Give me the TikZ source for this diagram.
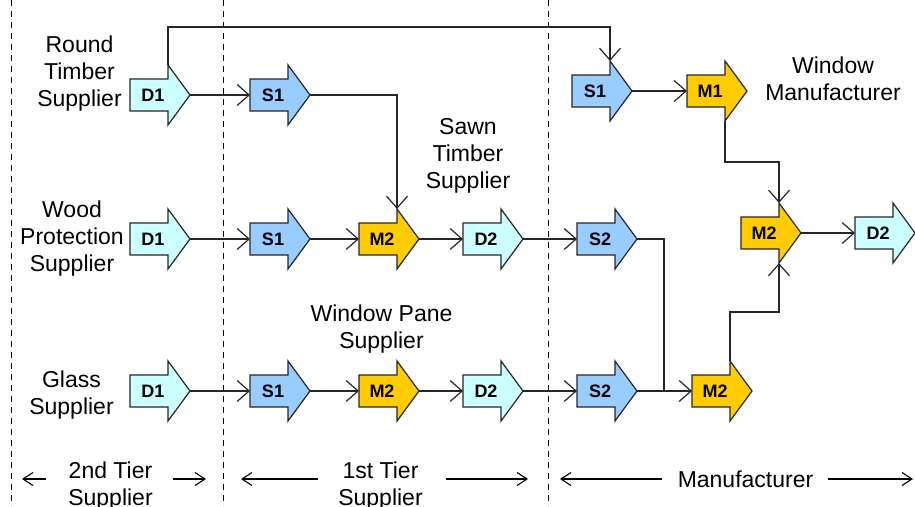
\documentclass[tikz,border=0pt]{standalone}
\usepackage{fontspec}
\setmainfont{Liberation Sans}
\usetikzlibrary{arrows.meta}
\definecolor{cD}{HTML}{CCFFFF}
\definecolor{cS}{HTML}{99CCFF}
\definecolor{cM}{HTML}{FFCC00}
\tikzset{
  blkline/.style={draw=black!85, line width=1.2pt, line join=miter},
  lbl/.style={inner sep=0pt, font=\fontsize{18}{20}\selectfont\bfseries},
  txt/.style={align=center, inner sep=0pt, font=\fontsize{23}{27}\selectfont},
  conn/.style={line width=1.2pt, draw=black!85},
  arr/.style={conn, -{Straight Barb[length=12pt,width=21pt,line width=1.2pt]}},
  tierarr/.style={line width=1.1pt, -{Straight Barb[length=10pt,width=13pt,line width=1.1pt]}},
  divider/.style={line width=1pt, dash pattern=on 6pt off 5pt}
}
\newcommand\blk[5]{%
  \draw[blkline, fill=#4] ({#2-60},{#3-16}) -- ({#2-22},{#3-16}) -- ({#2-22},{#3-30})
     -- (#2,#3) -- ({#2-22},{#3+30}) -- ({#2-22},{#3+16}) -- ({#2-60},{#3+16}) -- cycle;
  \node[lbl] (#1) at ({#2-37},#3) {#5};
  \coordinate (#1-tip) at (#2,#3);
  \coordinate (#1-l) at ({#2-60},#3);
  \coordinate (#1-ht) at ({#2-22},{#3-30});
  \coordinate (#1-hb) at ({#2-22},{#3+30});
}
\begin{document}
\begin{tikzpicture}[x=1pt,y=-1pt]
\useasboundingbox (0,0) rectangle (915,506);
% dividers
\coordinate (dv1t) at (11,0);  \coordinate (dv1b) at (11,506);
\coordinate (dv2t) at (223,0); \coordinate (dv2b) at (223,506);
\coordinate (dv3t) at (548,0); \coordinate (dv3b) at (548,506);
\draw[divider] (dv1t) -- (dv1b);
\draw[divider] (dv2t) -- (dv2b);
\draw[divider] (dv3t) -- (dv3b);
% texts
\node[txt] (tRT) at (79.5,74) {Round\\Timber\\Supplier};
\node[txt] (tWP) at (72,239) {Wood\\Protection\\Supplier};
\node[txt] (tGL) at (71.5,395) {Glass\\Supplier};
\node[txt] (tST) at (468,156) {Sawn\\Timber\\Supplier};
\node[txt] (tWPS) at (381.5,329) {Window Pane\\Supplier};
\node[txt] (tWM) at (833,79) {Window\\Manufacturer};
\node[txt] (tT2) at (110.5,486) {2nd Tier\\Supplier};
\node[txt] (tT1) at (380.5,486) {1st Tier\\Supplier};
\node[txt] (tMF) at (745.5,479) {Manufacturer};
% blocks
\blk{rtD1}{190}{95}{cD}{D1}
\blk{rtS1}{310}{95}{cS}{S1}
\blk{wmS1}{632}{91}{cS}{S1}
\blk{wmM1}{747}{91}{cM}{M1}
\blk{wpD1}{190}{239}{cD}{D1}
\blk{wpS1}{310}{239}{cS}{S1}
\blk{wpM2}{419}{239}{cM}{M2}
\blk{wpD2}{523}{239}{cD}{D2}
\blk{wpS2}{637}{239}{cS}{S2}
\blk{wmM2}{801}{233}{cM}{M2}
\blk{wmD2}{915}{233}{cD}{D2}
\blk{glD1}{190}{391}{cD}{D1}
\blk{glS1}{310}{391}{cS}{S1}
\blk{glM2}{419}{391}{cM}{M2}
\blk{glD2}{523}{391}{cD}{D2}
\blk{glS2}{637}{391}{cS}{S2}
\blk{glM2b}{752}{391}{cM}{M2}
% helper coordinates
\coordinate (ytop) at (0,27);
\coordinate (ym1) at (0,162);
\coordinate (ym3) at (0,312);
\coordinate (jn) at (664,391);
% connectors
\draw[arr] (rtD1-ht) -- (rtD1-ht |- ytop) -| (wmS1-ht);
\draw[arr] (rtD1-tip) -- (rtS1-l);
\draw[arr] (rtS1-tip) -| (wpM2-ht);
\draw[arr] (wmS1-tip) -- (wmM1-l);
\draw[arr] (wmM1-hb) -- (wmM1-hb |- ym1) -| (wmM2-ht);
\draw[arr] (wpD1-tip) -- (wpS1-l);
\draw[arr] (wpS1-tip) -- (wpM2-l);
\draw[arr] (wpM2-tip) -- (wpD2-l);
\draw[arr] (wpD2-tip) -- (wpS2-l);
\draw[conn] (wpS2-tip) -| (jn);
\draw[arr] (glD1-tip) -- (glS1-l);
\draw[arr] (glS1-tip) -- (glM2-l);
\draw[arr] (glM2-tip) -- (glD2-l);
\draw[arr] (glD2-tip) -- (glS2-l);
\draw[arr] (glS2-tip) -- (glM2b-l);
\draw[arr] (glM2b-ht) -- (glM2b-ht |- ym3) -| (wmM2-hb);
\draw[arr] (wmM2-tip) -- (wmD2-l);
% tier arrows
\coordinate (a1s) at (46,479);  \coordinate (a1e) at (22,479);
\coordinate (a2s) at (173,479); \coordinate (a2e) at (206,479);
\coordinate (a3s) at (318,479); \coordinate (a3e) at (241,479);
\coordinate (a4s) at (446,479); \coordinate (a4e) at (528,479);
\coordinate (a5s) at (662,479); \coordinate (a5e) at (560,479);
\coordinate (a6s) at (828,479); \coordinate (a6e) at (913,479);
\draw[tierarr] (a1s) -- (a1e);
\draw[tierarr] (a2s) -- (a2e);
\draw[tierarr] (a3s) -- (a3e);
\draw[tierarr] (a4s) -- (a4e);
\draw[tierarr] (a5s) -- (a5e);
\draw[tierarr] (a6s) -- (a6e);
\end{tikzpicture}
\end{document}
